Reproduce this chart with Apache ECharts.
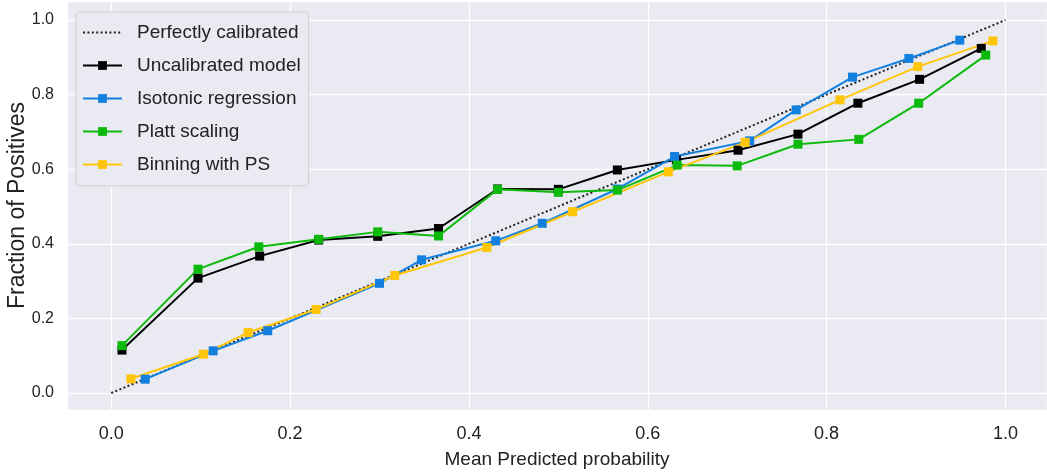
<!DOCTYPE html>
<html>
<head>
<meta charset="utf-8">
<script src="https://cdn.jsdelivr.net/npm/echarts@6/dist/echarts.min.js"></script>
<style>
  html, body { margin: 0; padding: 0; background: #fff; }
  #chart { width: 1047px; height: 472px; }
</style>
</head>
<body>
<div id="chart"></div>
<script>
// values
var diagX = [0, 1];
var diagY = [0, 1];

var uncalX = [0.012, 0.097, 0.166, 0.232, 0.298, 0.366, 0.432, 0.500, 0.566, 0.632, 0.701, 0.768, 0.835, 0.904, 0.973];
var uncalY = [0.115, 0.308, 0.367, 0.410, 0.420, 0.441, 0.547, 0.546, 0.598, 0.625, 0.651, 0.694, 0.777, 0.841, 0.924];

var isoX = [0.038, 0.114, 0.175, 0.300, 0.347, 0.430, 0.482, 0.566, 0.630, 0.714, 0.766, 0.829, 0.892, 0.949];
var isoY = [0.037, 0.113, 0.167, 0.294, 0.357, 0.408, 0.455, 0.547, 0.634, 0.676, 0.759, 0.847, 0.897, 0.946];

var plattX = [0.012, 0.097, 0.165, 0.232, 0.298, 0.366, 0.432, 0.500, 0.566, 0.633, 0.700, 0.768, 0.836, 0.903, 0.978];
var plattY = [0.127, 0.332, 0.392, 0.412, 0.432, 0.421, 0.546, 0.538, 0.544, 0.611, 0.609, 0.667, 0.680, 0.777, 0.906];

var binX = [0.022, 0.103, 0.153, 0.229, 0.317, 0.420, 0.516, 0.623, 0.709, 0.815, 0.902, 0.986];
var binY = [0.038, 0.104, 0.162, 0.224, 0.315, 0.390, 0.486, 0.593, 0.672, 0.786, 0.875, 0.944];

var tickLabels = ['0.0', '0.2', '0.4', '0.6', '0.8', '1.0'];

function pairs(xs, ys) {
  return xs.map(function (x, i) { return [x, ys[i]]; });
}

function tickFormatter(v) {
  var r = Math.round(v * 5);
  if (Math.abs(v * 5 - r) > 1e-6 || r < 0 || r > 5) return '';
  return tickLabels[r];
}

var font = "'Liberation Sans', Arial, sans-serif";
var textColor = '#222222';

function markerSeries(name, xs, ys, color) {
  return {
    name: name,
    type: 'line',
    data: pairs(xs, ys),
    symbol: 'rect',
    symbolSize: 9,
    showAllSymbol: true,
    lineStyle: { color: color, width: 2 },
    itemStyle: { color: color },
    emphasis: { disabled: true }
  };
}

var chart = echarts.init(document.getElementById('chart'));
chart.setOption({
  animation: false,
  grid: {
    left: 67,
    right: 0,
    top: 1,
    bottom: 62,
    outerBoundsMode: 'none',
    show: true,
    backgroundColor: '#eaeaf2',
    borderWidth: 0
  },
  legend: {
    orient: 'vertical',
    left: 76,
    top: 12,
    padding: [9, 8, 10, 6],
    itemWidth: 39,
    itemHeight: 11,
    itemGap: 10,
    backgroundColor: '#eaeaf2',
    borderColor: '#cfcfd6',
    borderWidth: 1,
    borderRadius: 4,
    textStyle: {
      color: textColor,
      fontFamily: font,
      fontSize: 19,
      lineHeight: 23,
      padding: [0, 0, 0, 10]
    },
    data: [
      { name: 'Perfectly calibrated', itemStyle: { opacity: 0 } },
      'Uncalibrated model',
      'Isotonic regression',
      'Platt scaling',
      'Binning with PS'
    ]
  },
  xAxis: {
    type: 'value',
    min: -0.0495,
    max: 1.0465,
    splitNumber: 5,
    axisLine: { show: false },
    axisTick: { show: false },
    splitLine: { show: true, lineStyle: { color: '#ffffff', width: 1.3 } },
    axisLabel: {
      showMinLabel: false,
      showMaxLabel: false,
      formatter: tickFormatter,
      color: textColor,
      fontFamily: font,
      fontSize: 18,
      margin: 15
    },
    name: 'Mean Predicted probability',
    nameLocation: 'middle',
    nameMoveOverlap: false,
    nameGap: 40,
    nameTextStyle: { color: textColor, fontFamily: font, fontSize: 19 }
  },
  yAxis: {
    type: 'value',
    min: -0.0456,
    max: 1.051,
    splitNumber: 5,
    axisLine: { show: false },
    axisTick: { show: false },
    splitLine: { show: true, lineStyle: { color: '#ffffff', width: 1.3 } },
    axisLabel: {
      showMinLabel: false,
      showMaxLabel: false,
      formatter: tickFormatter,
      color: textColor,
      fontFamily: font,
      fontSize: 16,
      margin: 13
    },
    name: 'Fraction of Positives',
    nameLocation: 'middle',
    nameMoveOverlap: false,
    nameGap: 38,
    nameTextStyle: { color: textColor, fontFamily: font, fontSize: 23 }
  },
  series: [
    {
      name: 'Perfectly calibrated',
      type: 'line',
      data: pairs(diagX, diagY),
      symbol: 'none',
      lineStyle: { color: '#222222', width: 2, type: [2, 2.4] },
      itemStyle: { color: '#222222' },
      emphasis: { disabled: true }
    },
    markerSeries('Uncalibrated model', uncalX, uncalY, '#000000'),
    markerSeries('Isotonic regression', isoX, isoY, '#1380e0'),
    markerSeries('Platt scaling', plattX, plattY, '#0cba0c'),
    markerSeries('Binning with PS', binX, binY, '#ffc508')
  ]
});
</script>
</body>
</html>
